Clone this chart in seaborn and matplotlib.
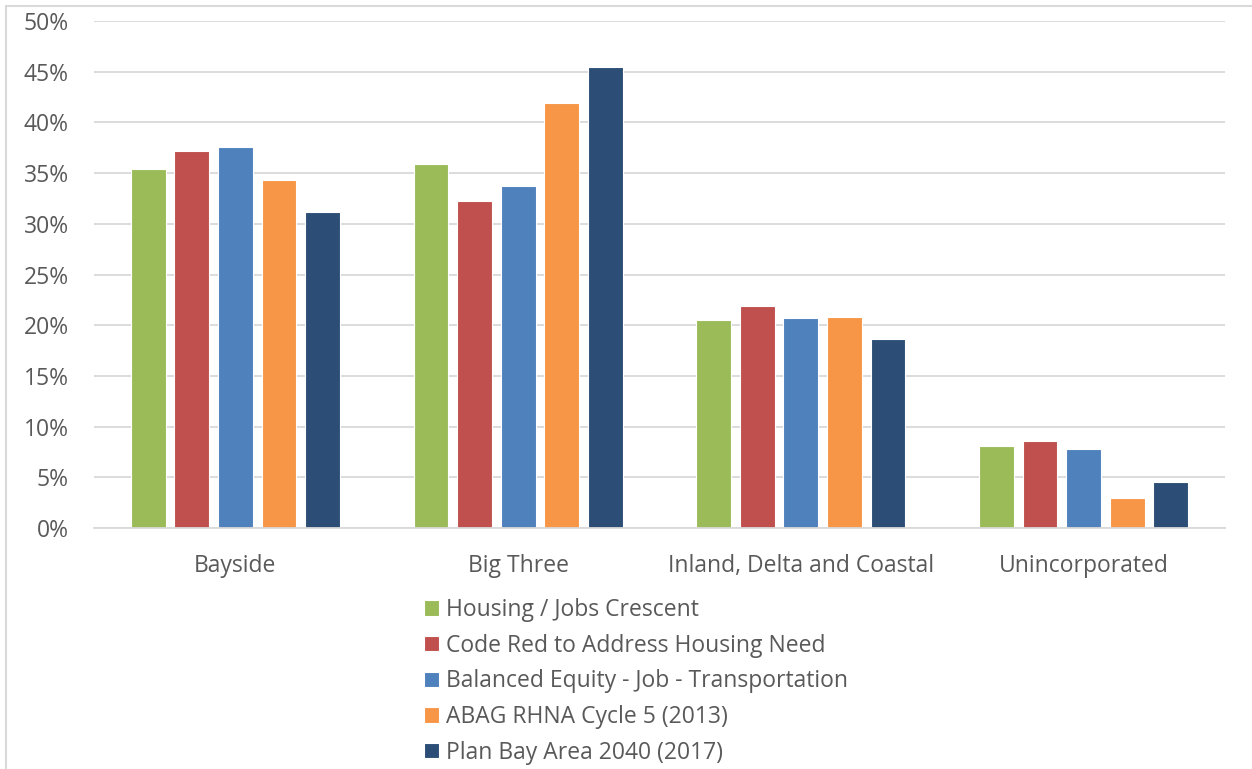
import matplotlib
matplotlib.use("Agg")
import matplotlib.pyplot as plt
from matplotlib.lines import Line2D
from matplotlib.ticker import FuncFormatter
import pandas as pd
import seaborn as sns

regions = ["Bayside", "Big Three", "Inland, Delta and Coastal", "Unincorporated"]
scenarios = [
    "Housing / Jobs Crescent",
    "Code Red to Address Housing Need",
    "Balanced Equity - Job - Transportation",
    "ABAG RHNA Cycle 5 (2013)",
    "Plan Bay Area 2040 (2017)",
]
# share of growth (%) per region, one list per scenario
housing_jobs = [35.4, 35.9, 20.5, 8.1]
code_red = [37.2, 32.2, 21.9, 8.6]
balanced_equity = [37.6, 33.7, 20.7, 7.8]
abag_rhna = [34.3, 41.9, 20.8, 3.0]
plan_bay_area = [31.2, 45.5, 18.6, 4.5]
colors = ["#9BBB59", "#C0504D", "#4F81BD", "#F79646", "#2C4D75"]

series = [housing_jobs, code_red, balanced_equity, abag_rhna, plan_bay_area]
rows = []
for name, vals in zip(scenarios, series):
    for reg, v in zip(regions, vals):
        rows.append({"region": reg, "scenario": name, "value": v})
df = pd.DataFrame(rows)

sns.set_style("white")
plt.rcParams["font.family"] = ["Open Sans", "DejaVu Sans"]
text_gray = "#595959"
grid_gray = "#D9D9D9"

fig = plt.figure(figsize=(12.52, 7.69), dpi=100)
ax = fig.add_axes([94 / 1252, 1 - 528 / 769, (1225 - 94) / 1252, (528 - 21) / 769])

sns.barplot(data=df, x="region", y="value", hue="scenario", hue_order=scenarios,
            order=regions, palette=colors, saturation=1, width=0.77, gap=0.2,
            edgecolor="white", linewidth=0.8, ax=ax, legend=True)

ax.set_ylim(0, 50)
ax.set_xlim(-0.5, 3.5)
ax.set_yticks(range(0, 51, 5))
ax.yaxis.set_major_formatter(FuncFormatter(lambda v, p: f"{int(v)}%"))
ax.grid(axis="y", color=grid_gray, linewidth=1.3)
ax.set_axisbelow(True)
for s in ["left", "right", "top"]:
    ax.spines[s].set_visible(False)
ax.spines["bottom"].set_color(grid_gray)
ax.spines["bottom"].set_linewidth(1.3)
ax.tick_params(axis="y", length=0, pad=18, labelsize=16.5, labelcolor=text_gray)
ax.tick_params(axis="x", length=0, pad=19, labelsize=16.5, labelcolor=text_gray)
ax.set_xlabel("")
ax.set_ylabel("")

handles, labels = ax.get_legend_handles_labels()
ax.legend_.remove()
fig.legend(handles, labels, loc="upper left", bbox_to_anchor=(424 / 1252, 1 - 598 / 769),
           frameon=False, fontsize=16.5, labelcolor=text_gray, handlelength=0.65,
           handleheight=0.65, handletextpad=0.33, labelspacing=0.51,
           borderaxespad=0, borderpad=0)

# chart border (only top and left visible in the crop)
fig.add_artist(Line2D([6 / 1252, 6 / 1252], [0, 1 - 6 / 769], transform=fig.transFigure,
                      color=grid_gray, linewidth=1.5))
fig.add_artist(Line2D([6 / 1252, 1], [1 - 6 / 769, 1 - 6 / 769], transform=fig.transFigure,
                      color=grid_gray, linewidth=1.5))

fig.savefig("out.png", dpi=100)
